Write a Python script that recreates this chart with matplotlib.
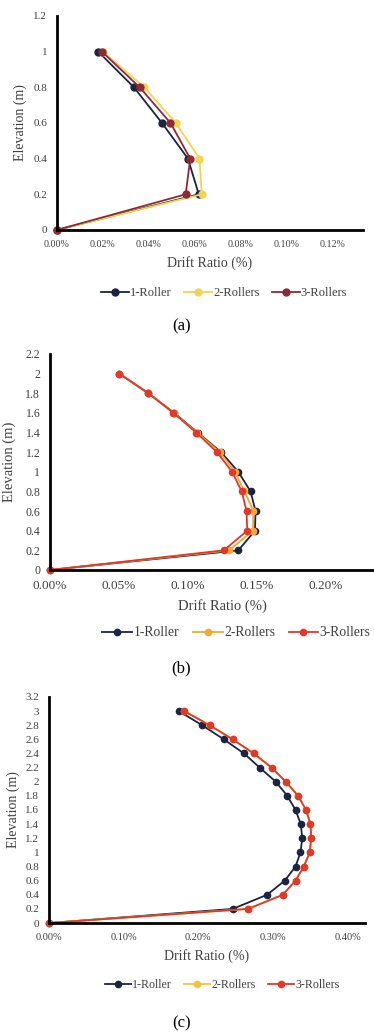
import numpy as np
import matplotlib.pyplot as plt

plt.rcParams['font.family'] = ['Liberation Serif', 'DejaVu Serif']

# elevations (m) and drift ratios (%) per panel
elev_a = [0, 0.2, 0.4, 0.6, 0.8, 1.0]
a_1roller = [0, 0.0617, 0.057, 0.0457, 0.0335, 0.018]
a_2rollers = [0, 0.063, 0.062, 0.0517, 0.038, 0.020]
a_3rollers = [0, 0.056, 0.058, 0.0494, 0.036, 0.0196]

elev_b = [0, 0.2, 0.4, 0.6, 0.8, 1.0, 1.2, 1.4, 1.6, 1.8, 2.0]
b_1roller = [0, 0.1365, 0.1486, 0.149, 0.1454, 0.1365, 0.124, 0.107, 0.090, 0.0713, 0.0502]
b_2rollers = [0, 0.130, 0.147, 0.1475, 0.141, 0.134, 0.123, 0.1065, 0.0897, 0.0713, 0.0502]
b_3rollers = [0, 0.126, 0.143, 0.1425, 0.139, 0.132, 0.121, 0.106, 0.0894, 0.0713, 0.0502]

elev_c = [0, 0.2, 0.4, 0.6, 0.8, 1.0, 1.2, 1.4, 1.6, 1.8, 2.0, 2.2, 2.4, 2.6, 2.8, 3.0]
c_1roller = [0, 0.246, 0.292, 0.3156, 0.330, 0.3366, 0.339, 0.337, 0.330, 0.319,
             0.3036, 0.282, 0.261, 0.234, 0.205, 0.1737]
c_2rollers = [0, 0.2665, 0.313, 0.330, 0.341, 0.349, 0.351, 0.350, 0.344, 0.3335,
              0.317, 0.298, 0.274, 0.246, 0.215, 0.181]
c_3rollers = [0, 0.2665, 0.313, 0.330, 0.341, 0.349, 0.351, 0.350, 0.344, 0.3335,
              0.317, 0.298, 0.274, 0.246, 0.215, 0.181]

names = ['1-Roller', '2-Rollers', '3-Rollers']
grey = '#404040'

fig = plt.figure(figsize=(3.74, 10.35), dpi=100)


def panel(rect, elev, series, colors, xticks, xlim, ylim, fs_x, fs_y, fs_lab, fs_leg,
          ms, ylab_x, leg_x, leg_y, cap_y, cap):
    ax = fig.add_axes(rect)
    for vals, c, n in zip(series, colors, names):
        ax.plot(vals, elev, color=c, lw=1.3, marker='o', ms=ms, label=n, clip_on=False)
    ax.set_xlim(*xlim)
    ax.set_ylim(*ylim)
    ax.set_xticks(xticks)
    ax.set_xticklabels([f'{v:.2f}%' for v in xticks])
    yt = np.round(np.arange(0, ylim[1] + 0.001, 0.2), 1)
    ax.set_yticks(yt)
    ax.set_yticklabels([f'{v:g}' for v in yt])
    ax.tick_params(axis='x', length=0, labelsize=fs_x, colors=grey, pad=7)
    ax.tick_params(axis='y', length=0, labelsize=fs_y, colors=grey, pad=7)
    for s in ['top', 'right']:
        ax.spines[s].set_visible(False)
    for s in ['left', 'bottom']:
        ax.spines[s].set_linewidth(2)
        ax.spines[s].set_color('black')
    ax.set_xlabel('Drift Ratio (%)', fontsize=fs_lab, color=grey, labelpad=5)
    ax.set_ylabel('Elevation (m)', fontsize=fs_lab, color=grey)
    ax.yaxis.set_label_coords(ylab_x, 0.5)
    h, l = ax.get_legend_handles_labels()
    fig.legend(h, l, loc='center', bbox_to_anchor=(leg_x, leg_y), ncol=3, frameon=False,
               fontsize=fs_leg, handlelength=2.2, handletextpad=0.1,
               columnspacing=1.0, labelcolor=grey)
    fig.text(0.485, cap_y, cap, ha='center', va='center', fontsize=12)
    return ax


panel([0.152, 0.7778, 0.818, 0.2068], elev_a, [a_1roller, a_2rollers, a_3rollers],
      ['#1b2440', '#f2d450', '#8e2a38'], [0, 0.02, 0.04, 0.06, 0.08, 0.10, 0.12],
      (0, 0.133), (0, 1.2), 7.2, 8, 10, 9, 5, -0.098,
      0.6, 1 - 293 / 1035, 1 - 326 / 1035, '(a)')

panel([0.1337, 0.4493, 0.922, 0.2087], elev_b, [b_1roller, b_2rollers, b_3rollers],
      ['#1b2440', '#f5a833', '#e2382a'], [0, 0.05, 0.10, 0.15, 0.20],
      (0, 0.25), (0, 2.2), 9.5, 8.6, 10.5, 9.8, 4.5, -0.099,
      0.632, 1 - 633 / 1035, 1 - 668 / 1035, '(b)')

panel([0.131, 0.1082, 0.845, 0.2184], elev_c, [c_1roller, c_2rollers, c_3rollers],
      ['#1b2440', '#f2c440', '#e2382a'], [0, 0.10, 0.20, 0.30, 0.40],
      (0, 0.423), (0, 3.2), 7.5, 8, 10, 8.6, 4.5, -0.092,
      0.594, 1 - 985 / 1035, 1 - 1023 / 1035, '(c)')

fig.savefig('out.png', dpi=100)
